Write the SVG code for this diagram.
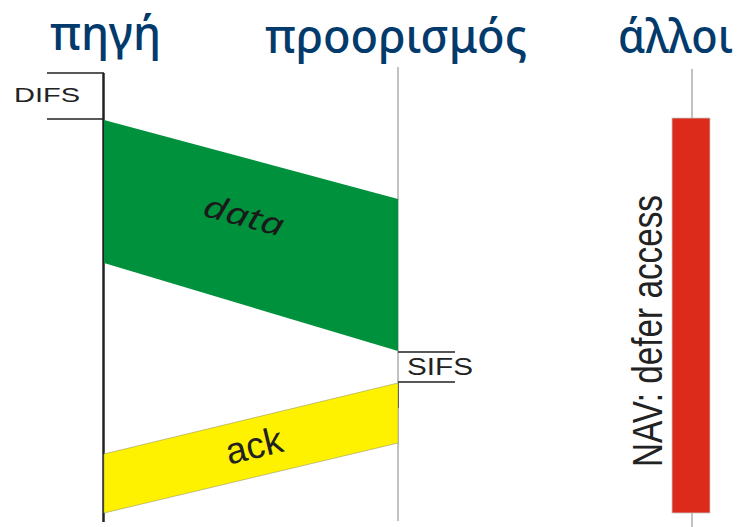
<svg xmlns="http://www.w3.org/2000/svg" width="748" height="527" viewBox="0 0 748 527">
<style>
.title{font-family:"Noto Sans","DejaVu Sans",sans-serif;font-size:47px;font-weight:500;fill:#033a6c}
.lbl{font-family:"Liberation Sans",Arial,sans-serif;fill:#222}
.bracket{stroke:#222;stroke-width:1.6;fill:none}
.gray{stroke:#a0a0a0;stroke-width:1.3}
</style>
<rect width="748" height="527" fill="#fff"/>
<g id="titles">
<text id="title-source" class="title" x="50" y="50" textLength="111" lengthAdjust="spacingAndGlyphs">πηγή</text>
<text id="title-dest" class="title" x="265" y="53" textLength="262" lengthAdjust="spacingAndGlyphs">προορισμός</text>
<text id="title-others" class="title" x="618" y="53" textLength="115" lengthAdjust="spacingAndGlyphs">άλλοι</text>
</g>
<g id="timelines">
<line x1="398" y1="67" x2="398" y2="521" class="gray"/>
<line x1="692" y1="69" x2="692" y2="527" class="gray"/>
<line x1="103.5" y1="73" x2="103.5" y2="522" stroke="#222" stroke-width="2.5"/>
</g>
<g id="difs">
<path d="M47 73H104M47 119H104" class="bracket"/>
<text class="lbl" x="14" y="102" font-size="21" textLength="66" lengthAdjust="spacingAndGlyphs">DIFS</text>
</g>
<g id="data">
<polygon points="104,120 398,199 398,351 104,263" fill="#00913d"/>
<text x="0" y="0" transform="translate(241,226) rotate(15)" text-anchor="middle" font-family="'Noto Sans',sans-serif" font-style="italic" font-size="31" fill="#1a1a1a" textLength="82" lengthAdjust="spacingAndGlyphs">data</text>
</g>
<g id="sifs">
<path d="M398 352H455M398 382H455" class="bracket"/>
<line x1="398" y1="383" x2="398" y2="408" stroke="#333" stroke-width="1.6"/>
<text class="lbl" x="407" y="375" font-size="23" textLength="66" lengthAdjust="spacingAndGlyphs">SIFS</text>
</g>
<g id="ack">
<polygon points="104,454 398,383 398,443 104,513" fill="#fff200" stroke="#9a9a60" stroke-width="0.6"/>
<text x="0" y="0" transform="translate(257,458) rotate(-13.6)" text-anchor="middle" class="lbl" font-size="37">ack</text>
</g>
<g id="nav">
<rect x="672" y="118" width="38" height="395" fill="#dc2b1a" stroke="#c8c8c8" stroke-width="0.8"/>
<text class="lbl" transform="translate(662,467) rotate(-90)" x="0" y="0" font-size="43" textLength="272" lengthAdjust="spacingAndGlyphs">NAV: defer access</text>
</g>
</svg>
